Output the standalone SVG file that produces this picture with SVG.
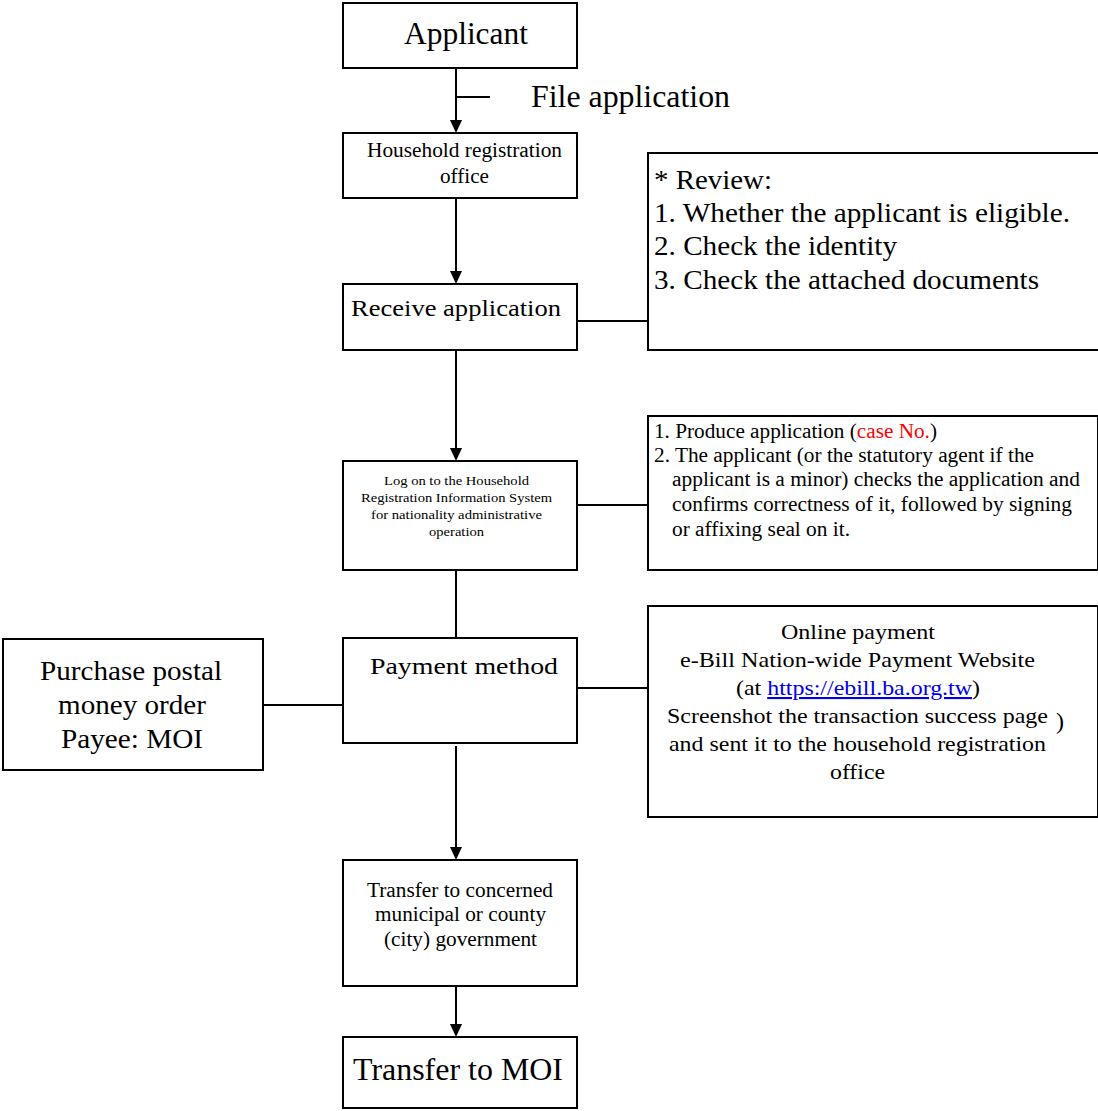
<svg xmlns="http://www.w3.org/2000/svg" width="1098" height="1111" viewBox="0 0 1098 1111">
<style>
.box{fill:#fff;stroke:#000;stroke-width:2}
.ln{fill:none;stroke:#000;stroke-width:2}
.ah{fill:#000}
text{font-family:"Liberation Serif","Times New Roman",serif;fill:#000}
</style>
<rect width="1098" height="1111" fill="#fff"/>
<g id="connectors">
<path class="ln" d="M456,68 V120"/>
<path class="ah" d="M450,120 L462,120 L456,133 Z"/>
<path class="ln" d="M456,97 H490"/>
<path class="ln" d="M456,198 V271"/>
<path class="ah" d="M450,271 L462,271 L456,284 Z"/>
<path class="ln" d="M577,321 H648"/>
<path class="ln" d="M456,350 V448"/>
<path class="ah" d="M450,448 L462,448 L456,461 Z"/>
<path class="ln" d="M577,505 H648"/>
<path class="ln" d="M456,570 V638"/>
<path class="ln" d="M263,705 H343"/>
<path class="ln" d="M577,688 H648"/>
<path class="ln" d="M456,746 V847"/>
<path class="ah" d="M450,847 L462,847 L456,860 Z"/>
<path class="ln" d="M456,986 V1024"/>
<path class="ah" d="M450,1024 L462,1024 L456,1037 Z"/>
</g>
<g id="applicant">
<rect class="box" x="343" y="3" width="234" height="65"/>
<text x="404" y="44" font-size="31" textLength="124" lengthAdjust="spacingAndGlyphs">Applicant</text>
</g>
<g id="file-label">
<text x="531" y="107" font-size="31" textLength="199" lengthAdjust="spacingAndGlyphs">File application</text>
</g>
<g id="household-office">
<rect class="box" x="343" y="133" width="234" height="65"/>
<text x="367" y="157" font-size="20" textLength="195" lengthAdjust="spacingAndGlyphs">Household registration</text>
<text x="440" y="183" font-size="20" textLength="49" lengthAdjust="spacingAndGlyphs">office</text>
</g>
<g id="receive">
<rect class="box" x="343" y="284" width="234" height="66"/>
<text x="351" y="316" font-size="24" textLength="210" lengthAdjust="spacingAndGlyphs">Receive application</text>
</g>
<g id="review">
<rect class="box" x="648" y="153" width="451" height="197"/>
<text x="654" y="189" font-size="27" textLength="118" lengthAdjust="spacingAndGlyphs">* Review:</text>
<text x="654" y="222" font-size="27" textLength="416" lengthAdjust="spacingAndGlyphs">1. Whether the applicant is eligible.</text>
<text x="654" y="255" font-size="27" textLength="243" lengthAdjust="spacingAndGlyphs">2. Check the identity</text>
<text x="654" y="289" font-size="27" textLength="385" lengthAdjust="spacingAndGlyphs">3. Check the attached documents</text>
</g>
<g id="logon">
<rect class="box" x="343" y="461" width="234" height="109"/>
<text x="384" y="485" font-size="13.5" textLength="145" lengthAdjust="spacingAndGlyphs">Log on to the Household</text>
<text x="361" y="502" font-size="13.5" textLength="191" lengthAdjust="spacingAndGlyphs">Registration Information System</text>
<text x="371" y="519" font-size="13.5" textLength="171" lengthAdjust="spacingAndGlyphs">for nationality administrative</text>
<text x="429" y="536" font-size="13.5" textLength="55" lengthAdjust="spacingAndGlyphs">operation</text>
</g>
<g id="produce">
<rect class="box" x="648" y="416" width="450" height="154"/>
<text x="654" y="438" font-size="20" textLength="283" lengthAdjust="spacingAndGlyphs">1. Produce application (<tspan fill="#ff0000">case No.</tspan>)</text>
<text x="654" y="462" font-size="20" textLength="380" lengthAdjust="spacingAndGlyphs">2. The applicant (or the statutory agent if the</text>
<text x="672" y="486" font-size="20" textLength="408" lengthAdjust="spacingAndGlyphs">applicant is a minor) checks the application and</text>
<text x="672" y="511" font-size="20" textLength="400" lengthAdjust="spacingAndGlyphs">confirms correctness of it, followed by signing</text>
<text x="672" y="536" font-size="20" textLength="178" lengthAdjust="spacingAndGlyphs">or affixing seal on it.</text>
</g>
<g id="payment">
<rect class="box" x="343" y="638" width="234" height="105"/>
<text x="370" y="674" font-size="24" textLength="188" lengthAdjust="spacingAndGlyphs">Payment method</text>
</g>
<g id="postal">
<rect class="box" x="3" y="639" width="260" height="131"/>
<text x="40" y="680" font-size="28" textLength="182" lengthAdjust="spacingAndGlyphs">Purchase postal</text>
<text x="58" y="714" font-size="28" textLength="148" lengthAdjust="spacingAndGlyphs">money order</text>
<text x="61" y="748" font-size="28" textLength="142" lengthAdjust="spacingAndGlyphs">Payee: MOI</text>
</g>
<g id="online">
<rect class="box" x="648" y="606" width="450" height="211"/>
<text x="781" y="639" font-size="21" textLength="154" lengthAdjust="spacingAndGlyphs">Online payment</text>
<text x="680" y="667" font-size="21" textLength="355" lengthAdjust="spacingAndGlyphs">e-Bill Nation-wide Payment Website</text>
<text x="736" y="695" font-size="21" textLength="244" lengthAdjust="spacingAndGlyphs">(at <tspan fill="#0000ee" text-decoration="underline">https://ebill.ba.org.tw</tspan>)</text>
<text x="667" y="723" font-size="21" textLength="381" lengthAdjust="spacingAndGlyphs">Screenshot the transaction success page</text>
<text x="1056" y="729" font-size="24">)</text>
<text x="669" y="751" font-size="21" textLength="377" lengthAdjust="spacingAndGlyphs">and sent it to the household registration</text>
<text x="830" y="779" font-size="21" textLength="55" lengthAdjust="spacingAndGlyphs">office</text>
</g>
<g id="transfer-gov">
<rect class="box" x="343" y="860" width="234" height="126"/>
<text x="367" y="897" font-size="20" textLength="186" lengthAdjust="spacingAndGlyphs">Transfer to concerned</text>
<text x="375" y="921" font-size="20" textLength="171" lengthAdjust="spacingAndGlyphs">municipal or county</text>
<text x="384" y="946" font-size="20" textLength="153" lengthAdjust="spacingAndGlyphs">(city) government</text>
</g>
<g id="transfer-moi">
<rect class="box" x="343" y="1037" width="234" height="71"/>
<text x="353" y="1080" font-size="31" textLength="210" lengthAdjust="spacingAndGlyphs">Transfer to MOI</text>
</g>
</svg>
